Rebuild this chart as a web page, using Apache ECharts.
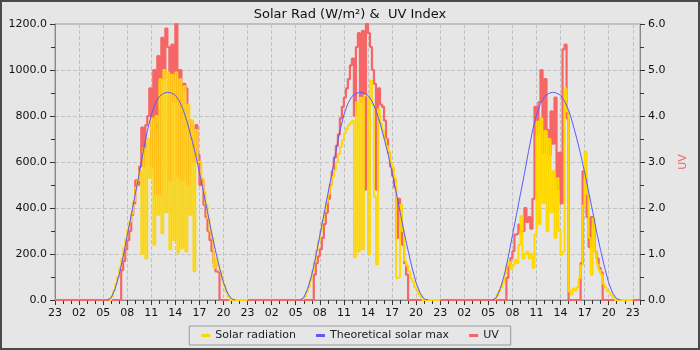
<!DOCTYPE html>
<html>
<head>
<meta charset="utf-8">
<script src="https://cdn.jsdelivr.net/npm/echarts@6/dist/echarts.min.js"></script>
<style>
  html, body { margin: 0; padding: 0; background: #e6e6e6; }
  #wrap { position: relative; width: 700px; height: 350px; }
  #solarChart { width: 700px; height: 350px; }
  #frame { position: absolute; left: 0; top: 0; width: 700px; height: 350px; box-sizing: border-box; border: 2px solid #4a4a4a; pointer-events: none; }
</style>
</head>
<body>
<div id="wrap">
  <div id="solarChart"></div>
  <div id="frame"></div>
</div>
<script>
// hours since 23:00 of the day before the first day
const dayMidnight = [1, 25, 49]
const xEnd = 72.9

// solar radiation, W/m², every 15 min from 05:45 to 20:45
const solarStart = 5.75
const solarDay1 = [0, 15, 40, 70, 100, 140, 180, 225, 265, 305, 340, 375, 430, 490, 520, 560, 200, 660, 180, 700, 530, 790, 240, 800, 370, 960, 290, 1000, 380, 990, 220, 980, 260, 990, 205, 960, 225, 930, 210, 850, 370, 780, 125, 740, 600, 600, 530, 470, 415, 355, 300, 270, 140, 180, 150, 125, 90, 65, 35, 15, 0]
const solarDay2 = [5, 15, 35, 55, 85, 125, 165, 215, 255, 300, 345, 385, 425, 460, 495, 535, 565, 600, 635, 665, 695, 725, 745, 760, 770, 780, 185, 860, 210, 880, 220, 890, 885, 200, 955, 850, 450, 155, 830, 770, 740, 700, 670, 645, 600, 575, 530, 95, 100, 415, 300, 170, 150, 125, 95, 80, 55, 45, 25, 15, 0]
const solarDay3 = [5, 20, 38, 55, 75, 115, 150, 165, 135, 150, 175, 160, 240, 365, 180, 200, 210, 180, 200, 140, 285, 775, 330, 790, 420, 735, 300, 700, 380, 560, 270, 530, 300, 197, 210, 920, 820, 38, 25, 50, 40, 55, 95, 150, 410, 645, 460, 270, 110, 355, 210, 155, 130, 110, 70, 55, 38, 30, 20, 10, 0]

// UV index, every 15 min from 07:00
const uvStart = 7
const uvDay1 = [0, 0.65, 0.85, 1.1, 1.3, 1.5, 1.85, 2.1, 2.6, 2.5, 2.9, 3.75, 2.9, 3.8, 4.0, 4.6, 2.9, 5.0, 2.3, 5.3, 2.3, 5.7, 4.8, 5.9, 5.5, 2.6, 5.55, 4.3, 6.0, 2.7, 5.0, 2.6, 4.7, 4.6, 2.5, 3.9, 3.5, 3.0, 3.8, 3.15, 2.5, 2.6, 2.07, 1.8, 1.5, 1.3, 1.06, 0.8, 0.62, 0.6, 0]
const uvDay2 = [0, 0.55, 0.8, 0.95, 1.1, 1.35, 1.65, 1.9, 2.2, 2.5, 2.8, 3.1, 3.35, 3.6, 3.95, 4.2, 4.4, 4.6, 4.8, 5.1, 5.25, 4.0, 5.5, 5.8, 4.3, 5.85, 2.4, 6.0, 5.8, 5.5, 5.0, 4.7, 2.4, 4.6, 4.25, 4.2, 3.9, 3.5, 3.2, 2.9, 2.7, 2.45, 1.35, 2.2, 1.65, 1.2, 0.8, 0.55, 0]
const uvDay3 = [0, 0.48, 0.77, 0.91, 1.06, 1.42, 1.45, 1.64, 1.5, 1.5, 2.0, 1.7, 1.8, 1.55, 2.2, 4.2, 3.6, 4.3, 5.0, 3.2, 4.8, 3.7, 3.15, 4.1, 3.4, 4.4, 2.4, 3.2, 2.1, 5.45, 5.55, 3.95, 0, 0, 0, 0, 0, 0, 0.8, 2.8, 2.65, 1.8, 1.15, 1.8, 1.6, 1.05, 0.9, 0.7, 0.6, 0]

// theoretical solar max, W/m², every 30 min from 05:30 to 21:30
const theoStart = 5.5
const theoMax = [0, 10, 50, 110, 190, 280, 370, 460, 550, 645, 735, 805, 855, 885, 898, 903, 900, 890, 865, 825, 770, 705, 635, 555, 470, 385, 295, 215, 140, 75, 30, 5, 0]

const font = 'DejaVu Sans'

function toPoints (days, startHour, step, breakBetween) {
  const out = []
  days.forEach((vals, d) => {
    vals.forEach((v, i) => out.push([dayMidnight[d] + startHour + i * step, v]))
    if (breakBetween) out.push([dayMidnight[d] + 23, null])
  })
  return out
}

const solarData = toPoints([solarDay1, solarDay2, solarDay3], solarStart, 0.25, true)
const theoData = toPoints([theoMax, theoMax, theoMax], theoStart, 0.5, true)
const uvData = [[0, 0]].concat(toPoints([uvDay1, uvDay2, uvDay3], uvStart, 0.25, false), [[xEnd, 0]])

const myChart = echarts.init(document.getElementById('solarChart'))
myChart.setOption({
  backgroundColor: '#e6e6e6',
  animation: false,
  textStyle: { fontFamily: font },
  title: {
    text: 'Solar Rad (W/m²) &  UV Index',
    left: 'center',
    top: 3,
    textStyle: { fontFamily: font, fontSize: 13, fontWeight: 'normal', color: '#111' }
  },
  legend: {
    data: ['Solar radiation', 'Theoretical solar max', 'UV'],
    left: 'center',
    top: 326,
    padding: [4, 12],
    itemGap: 20,
    itemWidth: 9,
    itemHeight: 3,
    icon: 'rect',
    borderColor: '#999',
    borderWidth: 1,
    textStyle: { fontFamily: font, fontSize: 11, color: '#222' }
  },
  grid: {
    left: 55,
    right: 60,
    top: 24,
    bottom: 50,
    outerBoundsMode: 'none',
    containLabel: false,
    show: true,
    borderColor: '#9a9a9a',
    borderWidth: 1,
    backgroundColor: 'transparent'
  },
  xAxis: {
    type: 'value',
    min: 0,
    max: xEnd,
    interval: 3,
    axisLine: { lineStyle: { color: '#888' } },
    axisTick: { length: 5, lineStyle: { color: '#333' } },
    minorTick: { show: true, splitNumber: 3, length: 4, lineStyle: { color: '#333' } },
    axisLabel: {
      fontFamily: font,
      fontSize: 11,
      color: '#111',
      showMaxLabel: false,
      formatter: v => (v % 3 === 0 ? String((v + 23) % 24).padStart(2, '0') : '')
    },
    splitLine: { show: true, lineStyle: { color: '#c2c2c2', type: 'dashed' } }
  },
  yAxis: [{
    type: 'value',
    name: 'Solar Rad (W/m²)',
    nameLocation: 'middle',
    nameGap: 44,
    nameTextStyle: { fontFamily: font, fontSize: 11, color: '#2f6ea8' },
    min: 0,
    max: 1200,
    interval: 200,
    axisLine: { show: true, lineStyle: { color: '#888' } },
    axisTick: { show: true, length: 5, lineStyle: { color: '#333' } },
    minorTick: { show: true, splitNumber: 2, length: 4, lineStyle: { color: '#333' } },
    axisLabel: { fontFamily: font, fontSize: 11, color: '#111', formatter: v => v.toFixed(1) },
    splitLine: { show: true, lineStyle: { color: '#c2c2c2', type: 'dashed' } }
  }, {
    type: 'value',
    name: 'UV',
    nameLocation: 'middle',
    nameGap: 38,
    nameTextStyle: { fontFamily: font, fontSize: 11, color: '#f06262' },
    min: 0,
    max: 6,
    interval: 1,
    axisLine: { show: true, lineStyle: { color: '#888' } },
    axisTick: { show: true, length: 5, lineStyle: { color: '#333' } },
    minorTick: { show: true, splitNumber: 2, length: 4, lineStyle: { color: '#333' } },
    axisLabel: { fontFamily: font, fontSize: 11, color: '#111', formatter: v => v.toFixed(1) },
    splitLine: { show: false }
  }],
  series: [{
    name: 'Solar radiation',
    type: 'line',
    step: 'end',
    data: solarData,
    showSymbol: false,
    symbol: 'none',
    connectNulls: false,
    z: 3,
    itemStyle: { color: '#ffd700' },
    lineStyle: { color: '#ffd700', width: 1.8 }
  }, {
    name: 'Theoretical solar max',
    type: 'line',
    data: theoData,
    showSymbol: false,
    symbol: 'none',
    connectNulls: false,
    z: 4,
    itemStyle: { color: '#5a5aff' },
    lineStyle: { color: '#5a5aff', width: 1 }
  }, {
    name: 'UV',
    type: 'line',
    step: 'end',
    yAxisIndex: 1,
    data: uvData,
    showSymbol: false,
    symbol: 'none',
    z: 2,
    itemStyle: { color: '#f66666' },
    lineStyle: { color: '#f66666', width: 2.2 }
  }]
})
</script>
</body>
</html>
